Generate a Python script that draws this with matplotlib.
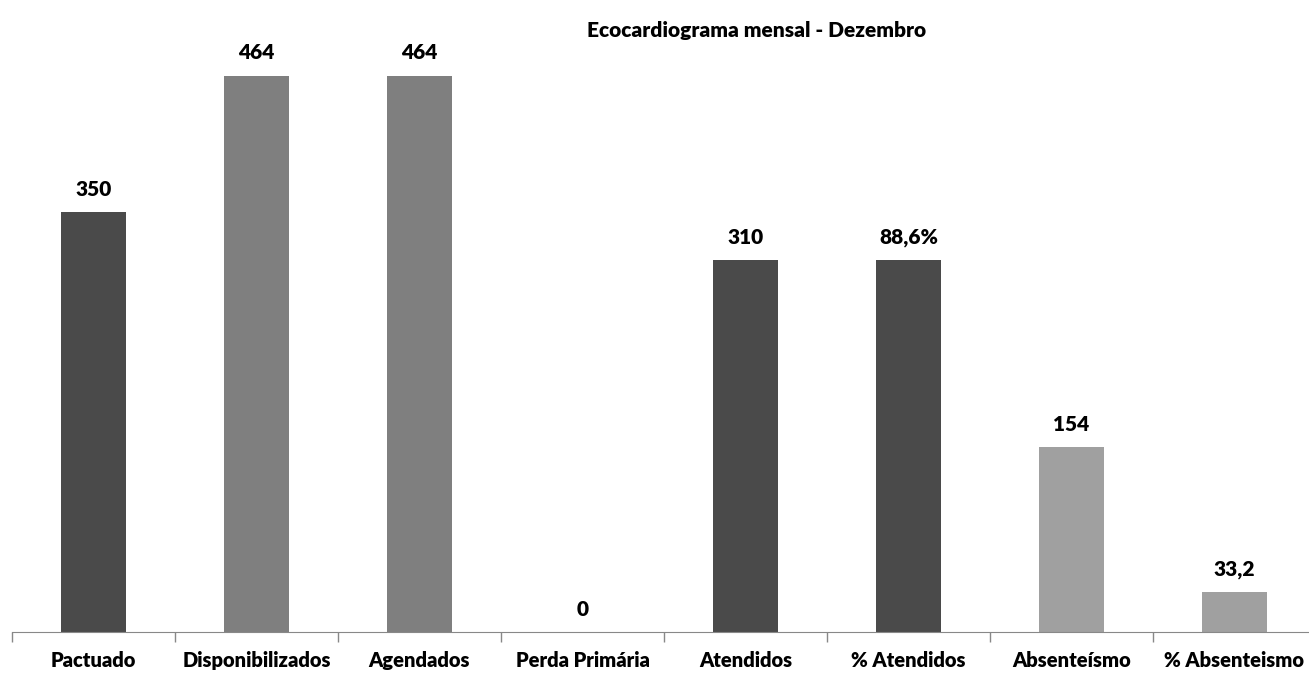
import numpy as np
import matplotlib
matplotlib.use('Agg')
import matplotlib.pyplot as plt

# data
categories = ['Pactuado', 'Disponibilizados', 'Agendados', 'Perda Primária',
              'Atendidos', '% Atendidos', 'Absenteísmo', '% Absenteismo']
values = [350, 464, 464, 0, 310, 310, 154, 33.2]
value_labels = ['350', '464', '464', '0', '310', '88,6%', '154', '33,2']
colors = ['#4a4a4a', '#7f7f7f', '#7f7f7f', '#7f7f7f',
          '#4a4a4a', '#4a4a4a', '#a0a0a0', '#a0a0a0']

plt.rcParams['font.family'] = ['Lato', 'DejaVu Sans']

fig = plt.figure(figsize=(13.09, 6.73), dpi=100)
ax = fig.add_axes([12 / 1309, 41 / 673, 1304 / 1309, 632 / 673])

index = np.arange(len(categories))
bars = ax.bar(index, values, 0.4, color=colors)

for rect, lab in zip(bars, value_labels):
    ax.text(rect.get_x() + rect.get_width() / 2, rect.get_height() + 11, lab,
            ha='center', va='bottom', fontsize=15, fontweight='heavy')

ax.set_xlim(-0.5, len(categories) - 0.5)
ax.set_ylim(0, 527)

ax.set_xticks(index)
ax.set_xticklabels(categories, fontsize=14.5, fontweight='heavy')
ax.tick_params(axis='x', which='major', length=0, pad=14)
ax.set_xticks(np.arange(len(categories) + 1) - 0.5, minor=True)
ax.tick_params(axis='x', which='minor', length=7, color='#888888', width=1)
ax.set_yticks([])

for s in ['top', 'right', 'left']:
    ax.spines[s].set_visible(False)
ax.spines['bottom'].set_color('#888888')

fig.text(757 / 1309, 1 - 30 / 673, 'Ecocardiograma mensal - Dezembro',
         ha='center', va='center', fontsize=15, fontweight='heavy')

fig.savefig('out.png', dpi=100)
